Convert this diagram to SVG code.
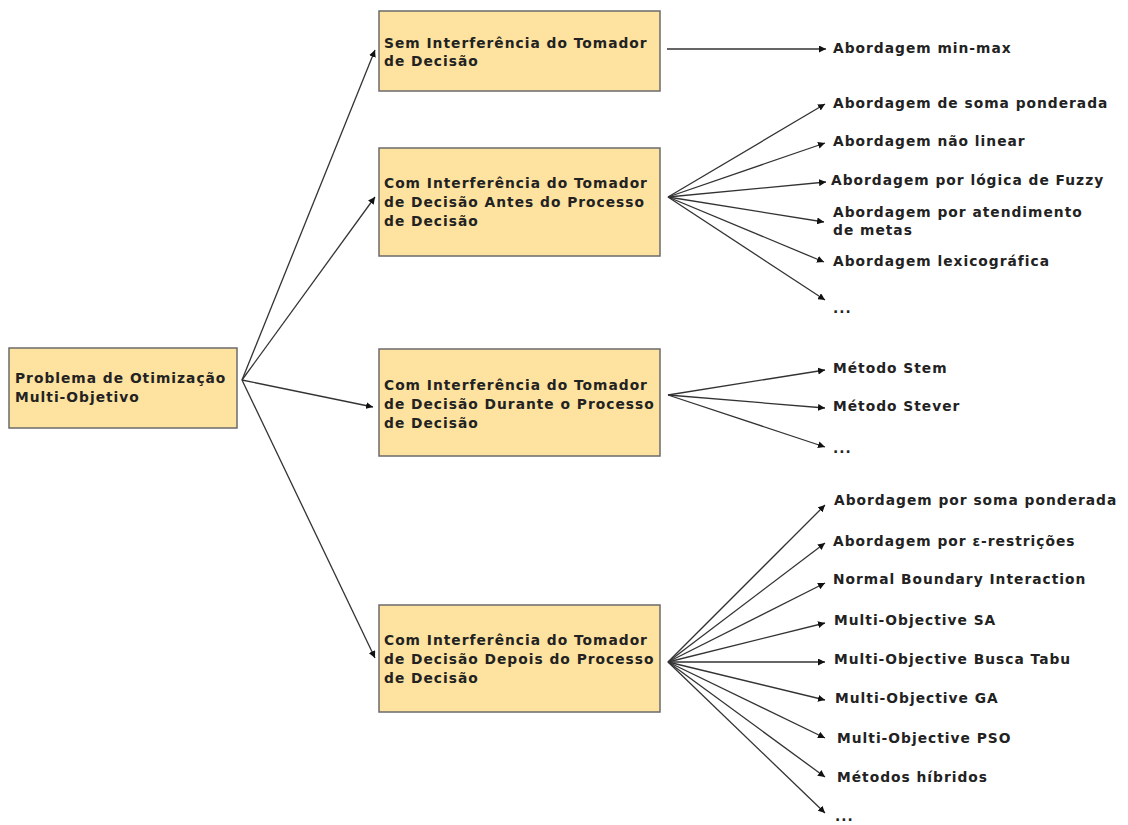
<svg xmlns="http://www.w3.org/2000/svg" width="1128" height="825" viewBox="0 0 1128 825">
  <style>
    .box { fill: #fee29f; stroke: #6b6b6b; stroke-width: 1.5; }
    text { font-family: "DejaVu Sans", Verdana, sans-serif; font-weight: bold; font-size: 13.8px; letter-spacing: 1px; fill: #222; }
    .edge { stroke: #333; stroke-width: 1.3; fill: none; marker-end: url(#arrow); }
  </style>
  <defs>
    <marker id="arrow" viewBox="0 0 10 10" refX="10" refY="5" markerWidth="7" markerHeight="7" markerUnits="userSpaceOnUse" orient="auto">
      <path d="M0,0 L10,5 L0,10 z" fill="#111"/>
    </marker>
  </defs>
  <rect width="1128" height="825" fill="#ffffff"/>

  <g id="connectors">
    <!-- root to the four groups -->
    <line class="edge" x1="242" y1="380" x2="375" y2="50"/>
    <line class="edge" x1="242" y1="380" x2="375" y2="197"/>
    <line class="edge" x1="242" y1="380" x2="373" y2="407"/>
    <line class="edge" x1="242" y1="380" x2="375" y2="658"/>
    <!-- no decision maker -->
    <line class="edge" x1="667" y1="49" x2="826" y2="49"/>
    <!-- a priori -->
    <line class="edge" x1="668" y1="197" x2="825" y2="104"/>
    <line class="edge" x1="668" y1="197" x2="825" y2="143"/>
    <line class="edge" x1="668" y1="197" x2="826" y2="182"/>
    <line class="edge" x1="668" y1="197" x2="824" y2="222"/>
    <line class="edge" x1="668" y1="197" x2="824" y2="262"/>
    <line class="edge" x1="668" y1="197" x2="825" y2="300"/>
    <!-- interactive -->
    <line class="edge" x1="668" y1="395" x2="825" y2="370"/>
    <line class="edge" x1="668" y1="395" x2="825" y2="408"/>
    <line class="edge" x1="668" y1="395" x2="825" y2="447"/>
    <!-- a posteriori -->
    <line class="edge" x1="668" y1="662" x2="825" y2="505"/>
    <line class="edge" x1="668" y1="662" x2="825" y2="543"/>
    <line class="edge" x1="668" y1="662" x2="825" y2="583"/>
    <line class="edge" x1="668" y1="662" x2="825" y2="623"/>
    <line class="edge" x1="668" y1="662" x2="825" y2="662"/>
    <line class="edge" x1="668" y1="662" x2="825" y2="700"/>
    <line class="edge" x1="668" y1="662" x2="825" y2="738"/>
    <line class="edge" x1="668" y1="662" x2="825" y2="777"/>
    <line class="edge" x1="668" y1="662" x2="825" y2="813"/>
  </g>

  <g id="root">
    <rect class="box" x="9" y="348" width="228" height="80"/>
    <text x="15" y="383">Problema de Otimização</text>
    <text x="15" y="402">Multi-Objetivo</text>
  </g>

  <g id="sem-interferencia">
    <rect class="box" x="379" y="11" width="281" height="80"/>
    <text x="384" y="48">Sem Interferência do Tomador</text>
    <text x="384" y="66">de Decisão</text>
  </g>

  <g id="antes">
    <rect class="box" x="379" y="148" width="281" height="108"/>
    <text x="384" y="188">Com Interferência do Tomador</text>
    <text x="384" y="207">de Decisão Antes do Processo</text>
    <text x="384" y="226">de Decisão</text>
  </g>

  <g id="durante">
    <rect class="box" x="379" y="349" width="281" height="107"/>
    <text x="384" y="390">Com Interferência do Tomador</text>
    <text x="384" y="409">de Decisão Durante o Processo</text>
    <text x="384" y="428">de Decisão</text>
  </g>

  <g id="depois">
    <rect class="box" x="379" y="605" width="281" height="107"/>
    <text x="384" y="645">Com Interferência do Tomador</text>
    <text x="384" y="664">de Decisão Depois do Processo</text>
    <text x="384" y="683">de Decisão</text>
  </g>

  <g id="leaves-sem">
    <text x="833" y="53">Abordagem min-max</text>
  </g>

  <g id="leaves-antes">
    <text x="833" y="108">Abordagem de soma ponderada</text>
    <text x="833" y="146">Abordagem não linear</text>
    <text x="831" y="185">Abordagem por lógica de Fuzzy</text>
    <text x="833" y="217">Abordagem por atendimento</text>
    <text x="833" y="235">de metas</text>
    <text x="833" y="266">Abordagem lexicográfica</text>
    <text x="833" y="313">...</text>
  </g>

  <g id="leaves-durante">
    <text x="833" y="373">Método Stem</text>
    <text x="833" y="411">Método Stever</text>
    <text x="833" y="453">...</text>
  </g>

  <g id="leaves-depois">
    <text x="834" y="505">Abordagem por soma ponderada</text>
    <text x="833" y="546">Abordagem por ε-restrições</text>
    <text x="833" y="584">Normal Boundary Interaction</text>
    <text x="834" y="625">Multi-Objective SA</text>
    <text x="834" y="664">Multi-Objective Busca Tabu</text>
    <text x="835" y="703">Multi-Objective GA</text>
    <text x="837" y="743">Multi-Objective PSO</text>
    <text x="837" y="782">Métodos híbridos</text>
    <text x="835" y="821">...</text>
  </g>
</svg>
